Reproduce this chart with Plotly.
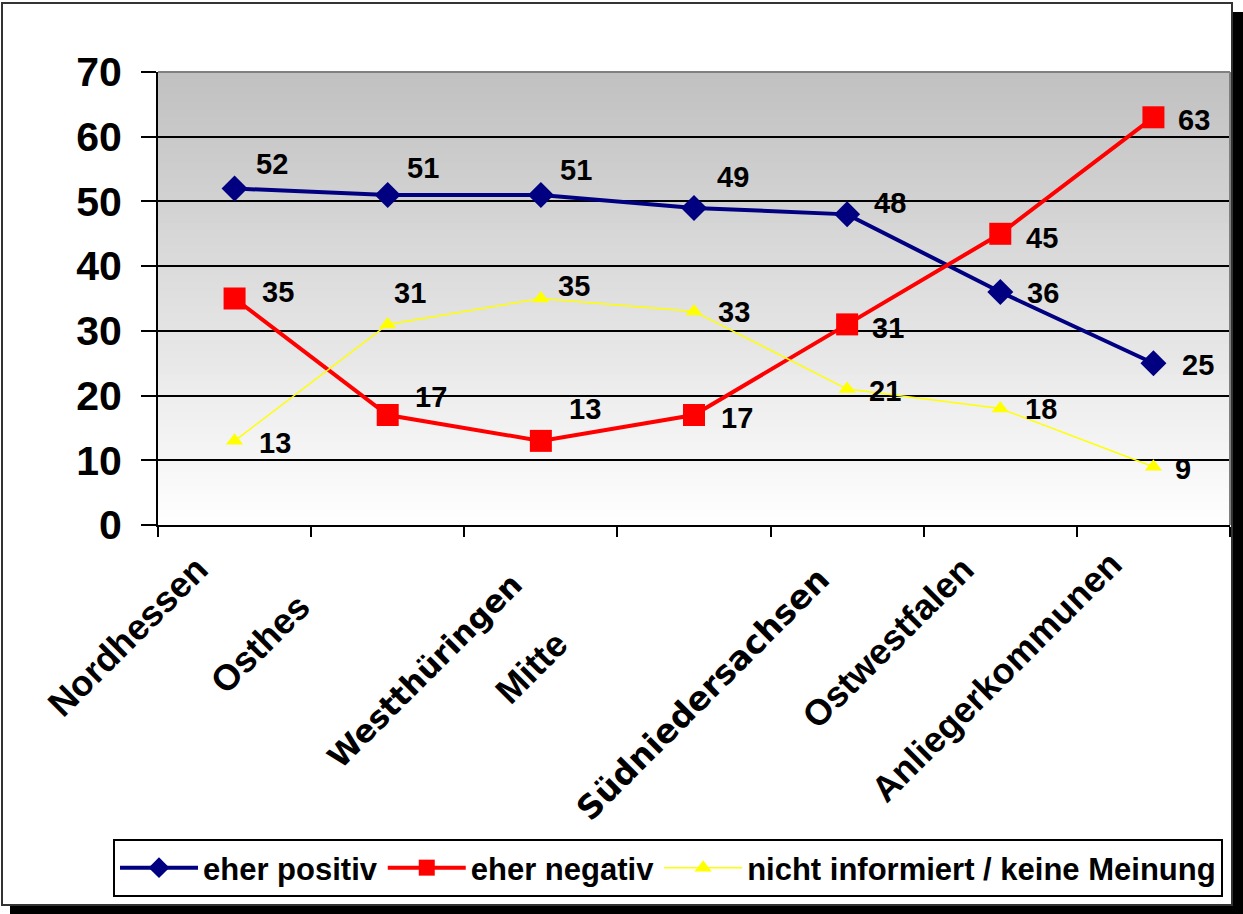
import plotly.graph_objects as go

# Daten
categories = ["Nordhessen", "Osthessen", "Westthüringen", "Mittelthüringen",
              "Südniedersachsen", "Ostwestfalen", "Anliegerkommunen"]
tick_labels = ["Nordhessen", "Osthes", "Westthüringen", "Mitte",
               "Südniedersachsen", "Ostwestfalen", "Anliegerkommunen"]
eher_positiv = [52, 51, 51, 49, 48, 36, 25]
eher_negativ = [35, 17, 13, 17, 31, 45, 63]
nicht_informiert = [13, 31, 35, 33, 21, 18, 9]

W, H = 1243, 914
L, R, T, B = 158, 13, 72, 389
PW, PH = W - L - R, H - T - B

def px_x(px):
    return (px - L) / PW

def px_y(py):
    return (H - B - py) / PH

FONT = "Liberation Sans, Arial, sans-serif"
FONT2 = "DejaVu Sans, Open Sans, sans-serif"

fig = go.Figure()

series = [
    ("eher positiv", eher_positiv, "#000080", 4, "diamond", 20),
    ("eher negativ", eher_negativ, "#FF0000", 4, "square", 22),
    ("nicht informiert / keine Meinung", nicht_informiert, "#FFFF00", 1.5, "triangle-up", 15),
]
for name, vals, col, lw, sym, ms in series:
    fig.add_trace(go.Scatter(
        x=categories, y=vals, name=name, mode="lines+markers",
        line=dict(color=col, width=lw),
        marker=dict(symbol=sym, size=ms, color=col, line=dict(width=0)),
    ))

# Datenbeschriftungen (Versatz in Pixeln)
label_offsets = {
    "eher positiv": [(37, -24), (35, -27), (35, -25), (39, -31), (43, -11), (43, 1), (45, 2)],
    "eher negativ": [(43, -7), (43, -18), (44, -32), (43, 3), (41, 4), (42, 4), (41, 3)],
    "nicht informiert / keine Meinung": [(40, 2), (22, -31), (33, -13), (40, 1), (38, 2), (41, 0), (30, 2)],
}
annotations = []
for name, vals, *_ in series:
    for cat, v, (dx, dy) in zip(categories, vals, label_offsets[name]):
        annotations.append(dict(
            x=cat, y=v, xref="x", yref="y", text=str(v), showarrow=False,
            xshift=dx, yshift=-dy, xanchor="center", yanchor="middle",
            font=dict(family=FONT, size=29, color="black", weight="bold"),
        ))

# Kategorienbeschriftungen, gedreht
cat_shifts = [(-16, -21), (-67, -58), (-8, -38), (-116, -95), (-7, -31), (-16, -21), (-21, -15)]
cat_fonts = [FONT, FONT, FONT2, FONT, FONT2, FONT, FONT]
cat_sizes = [36, 36, 31, 36, 33, 36, 36]
for cat, lab, (dx, dy), fam, sz in zip(categories, tick_labels, cat_shifts, cat_fonts, cat_sizes):
    annotations.append(dict(
        x=cat, y=0, xref="x", yref="y", text=lab, showarrow=False,
        textangle=-45, xanchor="right", yanchor="top", xshift=dx, yshift=dy,
        font=dict(family=fam, size=sz, color="black", weight="bold"),
    ))

shapes = []
# Rahmen mit Schatten
shapes.append(dict(type="rect", xref="paper", yref="paper", layer="below",
                   x0=px_x(10), x1=px_x(1243), y0=px_y(914), y1=px_y(12),
                   fillcolor="black", line=dict(width=0)))
shapes.append(dict(type="rect", xref="paper", yref="paper", layer="below",
                   x0=px_x(2), x1=px_x(1232), y0=px_y(905), y1=px_y(3),
                   fillcolor="white", line=dict(color="#333333", width=2)))
# Farbverlauf im Zeichenbereich
n = 60
for i in range(n):
    t = (i + 0.5) / n
    c = int(round(192 + (255 - 192) * (1 - t)))
    shapes.append(dict(type="rect", xref="paper", yref="paper", layer="below",
                       x0=0, x1=1, y0=i / n, y1=(i + 1) / n + 0.002,
                       fillcolor=f"rgb({c},{c},{c})", line=dict(width=0)))
# grauer Rand oben/rechts
shapes.append(dict(type="line", xref="paper", yref="paper", layer="above",
                   x0=0, x1=1, y0=1, y1=1, line=dict(color="#808080", width=2)))
shapes.append(dict(type="line", xref="paper", yref="paper", layer="above",
                   x0=1, x1=1, y0=0, y1=1, line=dict(color="#808080", width=2)))

fig.update_layout(
    width=W, height=H,
    margin=dict(l=L, r=R, t=T, b=B),
    paper_bgcolor="white",
    plot_bgcolor="rgba(0,0,0,0)",
    shapes=shapes,
    annotations=annotations,
    showlegend=True,
    legend=dict(
        orientation="h", x=px_x(113), y=px_y(839), xanchor="left", yanchor="top",
        bgcolor="white", bordercolor="black", borderwidth=2,
        font=dict(family=FONT, size=31, color="black", weight="bold"),
        itemwidth=78, tracegroupgap=0,
    ),
    xaxis=dict(
        type="category", range=[-0.5, 6.5], showticklabels=False,
        ticks="outside", tickson="boundaries", ticklen=10, tickwidth=2, tickcolor="black",
        showline=True, linecolor="black", linewidth=2, showgrid=False, zeroline=False,
    ),
    yaxis=dict(
        range=[0, 70], dtick=10, showgrid=True, gridcolor="black", gridwidth=1.5,
        ticks="outside", ticklen=15, tickwidth=2, tickcolor="black",
        showline=True, linecolor="black", linewidth=2, zeroline=False,
        tickfont=dict(family=FONT, size=41, color="black", weight="bold"),
        ticklabelstandoff=11,
    ),
)

fig.write_html("out.html", config={"displayModeBar": False},
               post_script="document.body.style.margin='0';")
